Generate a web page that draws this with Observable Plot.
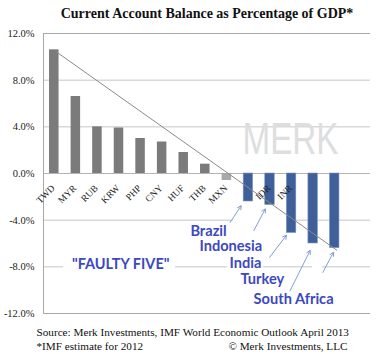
<!DOCTYPE html>
<html>
<head>
<meta charset="utf-8">
<script src="https://cdn.jsdelivr.net/npm/d3@7"></script>
<script src="https://cdn.jsdelivr.net/npm/@observablehq/plot@0.6"></script>
<style>
  html, body { margin: 0; padding: 0; background: #fff; }
  #chart svg { display: block; overflow: visible; }
</style>
</head>
<body>
<div id="chart"></div>
<script>
// ---- data ----
const categories = ["TWD","MYR","RUB","KRW","PHP","CNY","HUF","THB","MXN","BRL","IDR","INR","TRY","ZAR"];
const tickLabels = ["TWD","MYR","RUB","KRW","PHP","CNY","HUF","THB","MXN","","IDR","INR","",""];
const values = [10.6, 6.6, 4.0, 3.9, 3.0, 2.7, 1.8, 0.8, -0.6, -2.4, -2.7, -5.1, -6.0, -6.4];
const groups = ["other","other","other","other","other","other","other","other","other","faulty","faulty","faulty","faulty","faulty"];
const faultyNames = ["Brazil","Indonesia","India","Turkey","South Africa"];
const yTicks = [-12, -8, -4, 0, 4, 8, 12];
const title = "Current Account Balance as Percentage of GDP*";
const source = "Source: Merk Investments, IMF World Economic Outlook April 2013";
const footnote = "*IMF estimate for 2012";
const copyright = "\u00A9 Merk Investments, LLC";
const watermark = "MERK";
const faultyLabel = "\"FAULTY FIVE\"";

// ---- derived table ----
const table = categories.map((c, i) => ({i, cat: c, label: tickLabels[i], v: values[i], g: groups[i]}));
const faulty = table.filter(d => d.g === "faulty");

// annotation placement (layout, in chart units)
const annText = [
  {x: 6.31, y: -5.34}, {x: 6.73, y: -6.63}, {x: 8.12, y: -8.14}, {x: 8.63, y: -9.48}, {x: 9.24, y: -11.19}
];
const annArrow = [
  {dx: -0.34, dy: -0.37, lx: -0.51, ly: -1.43},
  {dx: -0.22, dy: -0.34, lx: -0.53, ly: -1.86},
  {dx: -0.24, dy: -0.2,  lx: -0.78, ly: -1.89},
  {dx: -0.14, dy: -0.6,  lx: -0.93, ly: -3.45},
  {dx: -0.06, dy: -0.36, lx: -0.49, ly: -1.72}
];
const arrows = faulty.map((d, k) => {
  const x2 = d.i + annArrow[k].dx, y2 = d.v + annArrow[k].dy;
  return {x1: x2 + annArrow[k].lx, y1: y2 + annArrow[k].ly, x2, y2};
});
const annotations = faultyNames.map((n, k) => ({name: n, ...annText[k]}));
const trend = [table[0], table[table.length - 1]];

const blueText = "#3c48c2";
const serif = "'Liberation Serif', 'Times New Roman', serif";
const sans = "Lato, 'Open Sans', sans-serif";

const chart = Plot.plot({
  width: 376,
  height: 354,
  marginTop: 33,
  marginBottom: 41,
  marginLeft: 43,
  marginRight: 6,
  style: {background: "#fff", fontFamily: serif, overflow: "visible"},
  x: {type: "linear", domain: [-0.5, 13.5], range: [43, 345], axis: null},
  y: {domain: [-12, 12], axis: null},
  marks: [
    // gridlines
    Plot.ruleY(yTicks.filter(t => Math.abs(t) !== 12 && t !== 0), {stroke: "#c6c6c6", strokeWidth: 1}),
    Plot.ruleY([0], {stroke: "#b4b4b4", strokeWidth: 1}),
    Plot.ruleY([12, -12], {stroke: "#a8a8a8", strokeWidth: 1}),
    Plot.ruleX([-0.5], {y1: -12, y2: 12, stroke: "#a8a8a8", strokeWidth: 1}),
    // white boxes behind annotation texts (they hide the gridlines)
    Plot.rect([{x1: 0.43, x2: 5.62, y1: -7.6, y2: -8.5}, {x1: 8.02, x2: 9.69, y1: -7.6, y2: -8.5}, {x1: 11.97, x2: 12.43, y1: -7.7, y2: -8.3}, {x1: 8.3, x2: 10.78, y1: -3.75, y2: -4.25}],
      {x1: "x1", x2: "x2", y1: "y1", y2: "y2", fill: "white"}),
    // watermark
    Plot.text([watermark], {x: 10.95, y: 2.93, text: d => d, fontSize: 45, fill: "#dedede",
      fontFamily: "'Liberation Sans', Arial, sans-serif",
      textAnchor: "middle", lineAnchor: "middle"}),
    // bars
    Plot.rectY(table, {x1: d => d.i - 0.22, x2: d => d.i + 0.22, y1: 0, y2: "v",
      fill: d => d.g === "faulty" ? "#3e5f99" : (d.cat === "MXN" ? "#a9a9a9" : "#7b7b7b"),
      stroke: d => d.g === "faulty" ? "#7f97c4" : "none", strokeWidth: 0.6}),
    // trend line
    Plot.line(trend, {x: "i", y: "v", dx: 2, dy: 2, stroke: "#8a8a8a", strokeWidth: 1}),
    // category tick labels
    Plot.text(table, {x: "i", y: 0, text: "label", rotate: -45, textAnchor: "end", lineAnchor: "middle",
      dx: -1, dy: 13, fontSize: 9.5, fill: "#222", fontFamily: serif}),
    // y tick labels
    Plot.text(yTicks, {x: -0.5, y: d => d, text: d => d.toFixed(1) + "%", textAnchor: "end", lineAnchor: "middle",
      dx: -9, fontSize: 10.5, fill: "#222", fontFamily: serif}),
    // arrows
    Plot.arrow(arrows, {x1: "x1", y1: "y1", x2: "x2", y2: "y2", stroke: "#7f9fd2", strokeWidth: 1, headLength: 6}),
    // annotations
    Plot.text(annotations, {x: "x", y: "y", text: "name", textAnchor: "start", lineAnchor: "bottom",
      fontSize: 14.6, fontWeight: "bold", fill: blueText, fontFamily: sans}),
    Plot.text([faultyLabel], {x: 3.08, y: -8.19, text: d => d, textAnchor: "middle", lineAnchor: "bottom",
      fontSize: 14.5, fontWeight: "bold", fill: blueText, fontFamily: sans}),
    // title
    Plot.text([title], {frameAnchor: "top", text: d => d, dy: -16, lineAnchor: "bottom",
      fontSize: 14, fontWeight: "bold", fill: "#111", fontFamily: serif}),
    // footer
    Plot.text([source], {frameAnchor: "bottom-left", text: d => d, dx: -7, dy: 22, textAnchor: "start",
      lineAnchor: "bottom", fontSize: 11.2, fill: "#111", fontFamily: serif}),
    Plot.text([footnote], {frameAnchor: "bottom-left", text: d => d, dx: -7, dy: 36, textAnchor: "start",
      lineAnchor: "bottom", fontSize: 11.2, fill: "#111", fontFamily: serif}),
    Plot.text([copyright], {frameAnchor: "bottom-right", text: d => d, dx: -23, dy: 36, textAnchor: "end",
      lineAnchor: "bottom", fontSize: 11.2, fill: "#111", fontFamily: serif})
  ]
});
// condense the watermark word to the reference's narrow lettering
d3.select(chart).selectAll("text").filter(function() { return this.textContent === watermark; })
  .attr("textLength", 96).attr("lengthAdjust", "spacingAndGlyphs");
document.getElementById("chart").append(chart);
</script>
</body>
</html>
